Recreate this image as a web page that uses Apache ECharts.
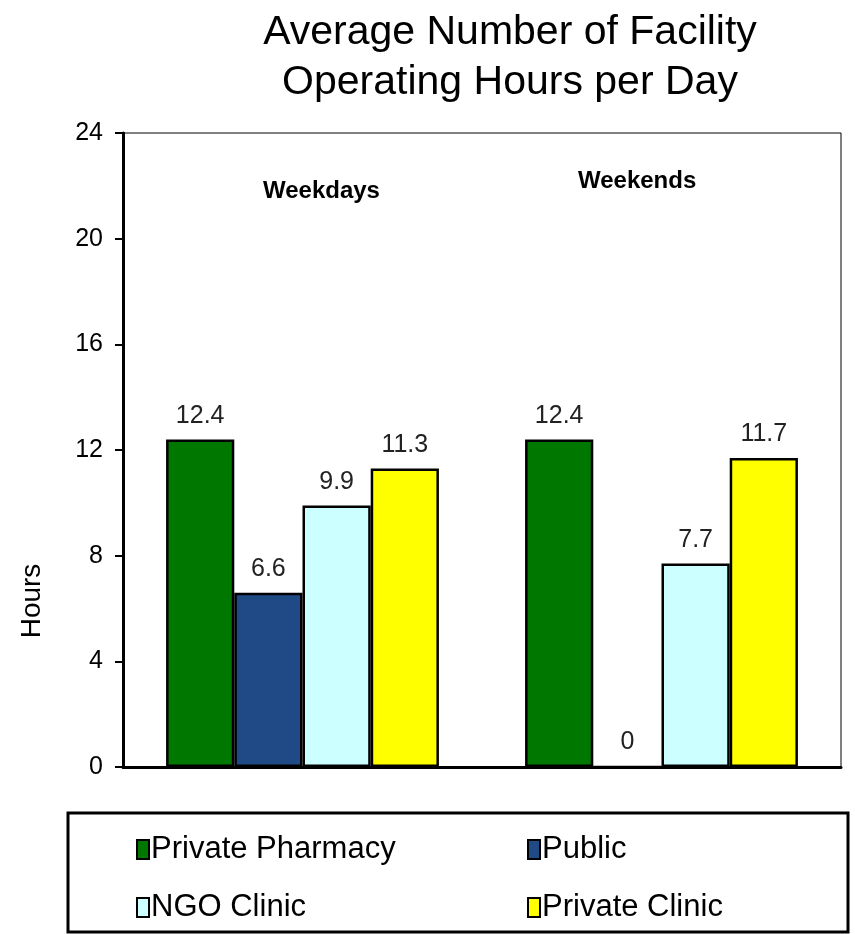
<!DOCTYPE html>
<html>
<head>
<meta charset="utf-8">
<script src="https://cdn.jsdelivr.net/npm/echarts@6/dist/echarts.min.js"></script>
<style>
  html, body { margin: 0; padding: 0; background: #fff; }
  #chart { width: 855px; height: 934px; }
</style>
</head>
<body>
<div id="chart"></div>
<script>
// data
var categories = ['Weekdays', 'Weekends'];
var privatePharmacy = [12.4, 12.4];
var publicFac = [6.6, 0];
var ngoClinic = [9.9, 7.7];
var privateClinic = [11.3, 11.7];
var yTicks = [0, 4, 8, 12, 16, 20, 24];

var font = 'Liberation Sans, Arial, sans-serif';
var myChart = echarts.init(document.getElementById('chart'));

function barSeries(name, data, color) {
    return {
        name: name,
        type: 'bar',
        data: data,
        barGap: 0,
        barCategoryGap: '24%',
        itemStyle: { color: color, borderColor: '#000', borderWidth: 2.5 },
        label: {
            show: true,
            position: 'top',
            distance: 11,
            color: '#222',
            fontFamily: font,
            fontSize: 25
        }
    };
}

// one legend per item so the columns line up like the original
function legendAt(name, left, top) {
    return {
        data: [name],
        left: left,
        top: top,
        itemWidth: 12,
        itemHeight: 19,
        itemGap: 3,
        icon: 'rect',
        textStyle: { fontFamily: font, fontSize: 31, color: '#000', padding: [0, 0, 0, -3] }
    };
}

var option = {
    animation: false,
    backgroundColor: '#fff',
    title: {
        text: 'Average Number of Facility\nOperating Hours per Day',
        left: 505,
        textAlign: 'center',
        top: 3,
        textStyle: { fontFamily: font, fontSize: 41, fontWeight: 'normal', color: '#000', lineHeight: 50 }
    },
    grid: {
        left: 123, right: 14, top: 133, bottom: 167,
        show: true, borderColor: '#000', borderWidth: 1
    },
    legend: [
        legendAt('Private Pharmacy', 131, 829),
        legendAt('Public', 522, 829),
        legendAt('NGO Clinic', 131, 887),
        legendAt('Private Clinic', 522, 887)
    ],
    xAxis: {
        type: 'category',
        data: categories,
        axisLine: { lineStyle: { color: '#000', width: 3 } },
        axisTick: { show: false },
        axisLabel: { show: false }
    },
    yAxis: {
        type: 'value',
        min: 0, max: 24, interval: 4,
        axisLine: { show: true, lineStyle: { color: '#000', width: 3 } },
        axisTick: { show: true, length: 8, lineStyle: { color: '#000', width: 2 } },
        axisLabel: {
            fontFamily: font, fontSize: 25, color: '#000', margin: 20,
            formatter: function (v) { return yTicks.indexOf(v) >= 0 ? String(v) : ''; }
        },
        splitLine: { show: false }
    },
    graphic: [
        {
            type: 'text', left: 263, top: 179,
            style: { text: categories[0], font: 'bold 24px Liberation Sans, Arial, sans-serif', fill: '#000' }
        },
        {
            type: 'text', left: 578, top: 169,
            style: { text: categories[1], font: 'bold 24px Liberation Sans, Arial, sans-serif', fill: '#000' }
        },
        {
            type: 'text', x: 32, y: 601, rotation: Math.PI / 2,
            style: { text: 'Hours', font: '28px Liberation Sans, Arial, sans-serif', fill: '#000', align: 'center', verticalAlign: 'middle' }
        },
        {
            type: 'rect', shape: { x: 68, y: 813, width: 780, height: 119 },
            style: { fill: 'none', stroke: '#000', lineWidth: 3 }
        }
    ],
    series: [
        barSeries('Private Pharmacy', privatePharmacy, '#007800'),
        barSeries('Public', publicFac, '#1f4a86'),
        barSeries('NGO Clinic', ngoClinic, '#ccffff'),
        barSeries('Private Clinic', privateClinic, '#ffff00')
    ]
};

myChart.setOption(option);
</script>
</body>
</html>
